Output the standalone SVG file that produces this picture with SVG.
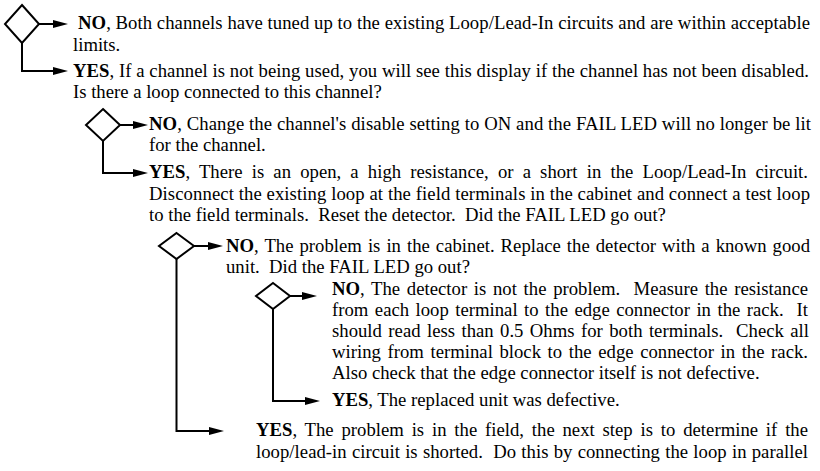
<svg xmlns="http://www.w3.org/2000/svg" width="820" height="471" viewBox="0 0 820 471">
<defs>
<style>
.bg{fill:#fff}
.dia{fill:#fff;stroke:#000;stroke-width:2;stroke-linejoin:miter}
.con{fill:none;stroke:#000;stroke-width:2;marker-end:url(#ah)}
.t{font-family:"Liberation Serif","Times New Roman",serif;font-size:18.7px;fill:#000;white-space:pre}
.b{font-weight:bold}
</style>
<marker id="ah" markerUnits="userSpaceOnUse" markerWidth="16" markerHeight="9" refX="5" refY="4" orient="auto">
<path d="M0,0 L15,4 L0,8 z" fill="#000"/>
</marker>
</defs>
<rect class="bg" x="0" y="0" width="820" height="471"/>

<g id="connectors">
<path class="con" d="M39,24 H58"/>
<path class="con" d="M22,43 V71 H58"/>
<path class="con" d="M120,125 H138"/>
<path class="con" d="M103,141 V173 H138"/>
<path class="con" d="M194,246 H213"/>
<path class="con" d="M176.5,259 V431 H214"/>
<path class="con" d="M290,296 H307"/>
<path class="con" d="M273,309 V401 H310"/>
</g>

<g id="d1"><path class="dia" d="M22,5 L39,24 L22,43 L5,24 Z"/></g>
<g id="d2"><path class="dia" d="M103,109 L120,125 L103,141 L86,125 Z"/></g>
<g id="d3"><path class="dia" d="M176.5,233 L194,246 L176.5,259 L159,246 Z"/></g>
<g id="d4"><path class="dia" d="M273,283 L290,296 L273,309 L256,296 Z"/></g>

<g id="p1-no">
<text class="t" x="78" y="29" textLength="732" lengthAdjust="spacing"><tspan class="b">NO</tspan>, Both channels have tuned up to the existing Loop/Lead-In circuits and are within acceptable</text>
<text class="t" x="73" y="50.5">limits.</text>
</g>

<g id="p2-yes">
<text class="t" x="73" y="76.5" textLength="736" lengthAdjust="spacing"><tspan class="b">YES</tspan>, If a channel is not being used, you will see this display if the channel has not been disabled.</text>
<text class="t" x="73" y="98">Is there a loop connected to this channel?</text>
</g>

<g id="p3-no">
<text class="t" x="149" y="129.5" textLength="662" lengthAdjust="spacing"><tspan class="b">NO</tspan>, Change the channel's disable setting to ON and the FAIL LED will no longer be lit</text>
<text class="t" x="149" y="151">for the channel.</text>
</g>

<g id="p4-yes">
<text class="t" x="149" y="178" textLength="659" lengthAdjust="spacing" word-spacing="4.5"><tspan class="b">YES</tspan>, There is an open, a high resistance, or a short in the Loop/Lead-In circuit.</text>
<text class="t" x="149" y="199.5" textLength="661" lengthAdjust="spacing">Disconnect the existing loop at the field terminals in the cabinet and connect a test loop</text>
<text class="t" x="149" y="221">to the field terminals.  Reset the detector.  Did the FAIL LED go out?</text>
</g>

<g id="p5-no">
<text class="t" x="226" y="251.5" textLength="584" lengthAdjust="spacing" word-spacing="1.3"><tspan class="b">NO</tspan>, The problem is in the cabinet. Replace the detector with a known good</text>
<text class="t" x="226" y="273">unit.  Did the FAIL LED go out?</text>
</g>

<g id="p6-no">
<text class="t" x="332" y="295" textLength="476" lengthAdjust="spacing" word-spacing="2"><tspan class="b">NO</tspan>, The detector is not the problem.  Measure the resistance</text>
<text class="t" x="332" y="316" textLength="476" lengthAdjust="spacing" word-spacing="1.8">from each loop terminal to the edge connector in the rack.  It</text>
<text class="t" x="332" y="337" textLength="477" lengthAdjust="spacing" word-spacing="1.7">should read less than 0.5 Ohms for both terminals.  Check all</text>
<text class="t" x="332" y="358" textLength="476" lengthAdjust="spacing" word-spacing="1.9">wiring from terminal block to the edge connector in the rack.</text>
<text class="t" x="332" y="379">Also check that the edge connector itself is not defective.</text>
</g>

<g id="p7-yes">
<text class="t" x="332" y="406"><tspan class="b">YES</tspan>, The replaced unit was defective.</text>
</g>

<g id="p8-yes">
<text class="t" x="256" y="436" textLength="552" lengthAdjust="spacing" word-spacing="3.1"><tspan class="b">YES</tspan>, The problem is in the field, the next step is to determine if the</text>
<text class="t" x="256" y="457.5" textLength="552" lengthAdjust="spacing" word-spacing="0.5">loop/lead-in circuit is shorted.  Do this by connecting the loop in parallel</text>
</g>
</svg>
